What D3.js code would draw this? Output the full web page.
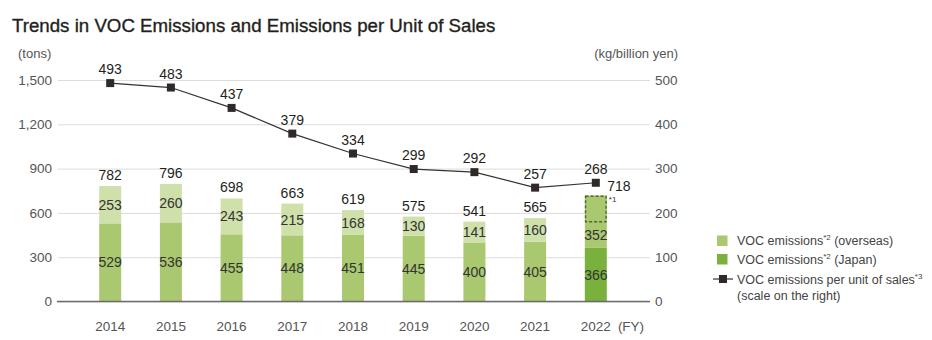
<!DOCTYPE html>
<html>
<head>
<meta charset="utf-8">
<script src="https://cdn.jsdelivr.net/npm/d3@7"></script>
<style>
  body { margin: 0; background: #fff; }
  svg text { font-family: "Liberation Sans", Arial, Helvetica, sans-serif; }
</style>
</head>
<body>
<script>
// VOC emissions by fiscal year (tons) and emissions per unit of sales (kg/billion yen)
var years = ["2014", "2015", "2016", "2017", "2018", "2019", "2020", "2021", "2022"];
var japan = [529, 536, 455, 448, 451, 445, 400, 405, 366];
var overseas = [253, 260, 243, 215, 168, 130, 141, 160, 352];
var totals = [782, 796, 698, 663, 619, 575, 541, 565, 718];
var perSales = [493, 483, 437, 379, 334, 299, 292, 257, 268];
// share of the 2022 overseas figure covered by note *1
var noted2022 = 178;

var leftTicks = [0, 300, 600, 900, 1200, 1500];
var rightTicks = [0, 100, 200, 300, 400, 500];

var svgWidth = 932;
var svgHeight = 340;

var colors = {
  japan: "#79b13c",
  overseas: "#a9c86f",
  japanOld: "#a9c86f",
  overseasOld: "#cfe0ab",
  line: "#2f2a28",
};

var svg = d3
  .select("body")
  .append("svg")
  .attr("width", svgWidth)
  .attr("height", svgHeight);

// Title
svg
  .append("text")
  .attr("x", 12)
  .attr("y", 32)
  .attr("font-size", 18.7)
  .attr("fill", "#231f20")
  .attr("stroke", "#231f20")
  .attr("stroke-width", 0.35)
  .text("Trends in VOC Emissions and Emissions per Unit of Sales");

// Scales
var x = d3
  .scaleBand()
  .domain(years)
  .range([57, 649])
  .paddingInner(0.6376)
  .paddingOuter(0.695);

var yLeft = d3.scaleLinear().domain([0, 1500]).range([301.5, 80]);
var yRight = d3.scaleLinear().domain([0, 500]).range([301.5, 80]);

var cx = (d) => x(d) + x.bandwidth() / 2;

// Left axis with gridlines
var leftAxis = svg
  .append("g")
  .attr("transform", "translate(58,0)")
  .call(
    d3
      .axisLeft(yLeft)
      .tickValues(leftTicks)
      .tickSize(-592)
      .tickPadding(6)
      .tickFormat(d3.format(","))
  );
leftAxis.select(".domain").remove();
leftAxis.selectAll("line").attr("stroke", "#dcdcdc");
leftAxis
  .selectAll("text")
  .attr("font-size", 13.5)
  .attr("fill", "#555")
  .style("font-family", "'Liberation Sans', Arial, sans-serif");

// Right axis
var rightAxis = svg
  .append("g")
  .attr("transform", "translate(650,0)")
  .call(d3.axisRight(yRight).tickValues(rightTicks).tickSize(0).tickPadding(5));
rightAxis.select(".domain").remove();
rightAxis
  .selectAll("text")
  .attr("font-size", 13.5)
  .attr("fill", "#555")
  .style("font-family", "'Liberation Sans', Arial, sans-serif");

// Unit labels
svg
  .append("text")
  .attr("x", 18)
  .attr("y", 57.5)
  .attr("font-size", 13)
  .attr("fill", "#555")
  .text("(tons)");
svg
  .append("text")
  .attr("x", 678)
  .attr("y", 57.5)
  .attr("font-size", 13)
  .attr("fill", "#555")
  .attr("text-anchor", "end")
  .text("(kg/billion yen)");

// Stacked bars
var last = years.length - 1;
var bars = svg
  .append("g")
  .selectAll("g")
  .data(years)
  .enter()
  .append("g");

bars
  .append("rect")
  .attr("x", (d) => x(d))
  .attr("width", x.bandwidth())
  .attr("y", (d, i) => yLeft(japan[i]))
  .attr("height", (d, i) => yLeft(0) - yLeft(japan[i]))
  .attr("fill", (d, i) => (i == last ? colors.japan : colors.japanOld));

bars
  .append("rect")
  .attr("x", (d) => x(d))
  .attr("width", x.bandwidth())
  .attr("y", (d, i) => yLeft(totals[i]))
  .attr("height", (d, i) => yLeft(japan[i]) - yLeft(totals[i]))
  .attr("fill", (d, i) => (i == last ? colors.overseas : colors.overseasOld));

// Dashed box on the 2022 overseas segment (*1)
svg
  .append("rect")
  .attr("x", x(years[last]) + 0.75)
  .attr("width", x.bandwidth() - 1.5)
  .attr("y", yLeft(totals[last]) + 0.75)
  .attr("height", yLeft(totals[last] - noted2022) - yLeft(totals[last]) - 0.75)
  .attr("fill", "none")
  .attr("stroke", "#4b6a2c")
  .attr("stroke-width", 1.4)
  .attr("stroke-dasharray", "3,2");
svg
  .append("text")
  .attr("x", x(years[last]) + x.bandwidth() + 2)
  .attr("y", yLeft(totals[last]) + 7)
  .attr("font-size", 8)
  .attr("fill", "#333")
  .text("*1");

// Segment labels
bars
  .append("text")
  .attr("x", (d) => cx(d))
  .attr("y", (d, i) => (yLeft(japan[i]) + yLeft(0)) / 2)
  .attr("dy", "0.36em")
  .attr("text-anchor", "middle")
  .attr("font-size", 14)
  .attr("fill", "#333")
  .text((d, i) => japan[i]);

bars
  .append("text")
  .attr("x", (d) => cx(d))
  .attr("y", (d, i) => {
    var top = i == last ? totals[i] - noted2022 : totals[i];
    return (yLeft(top) + yLeft(japan[i])) / 2;
  })
  .attr("dy", "0.36em")
  .attr("text-anchor", "middle")
  .attr("font-size", 14)
  .attr("fill", "#333")
  .text((d, i) => overseas[i]);

// Totals above the bars (2022 sits beside the marker)
bars
  .append("text")
  .attr("x", (d, i) => (i == last ? x(d) + x.bandwidth() + 0.5 : cx(d)))
  .attr("y", (d, i) => yLeft(totals[i]) - (i == last ? 4.5 : 6))
  .attr("text-anchor", (d, i) => (i == last ? "start" : "middle"))
  .attr("font-size", 14)
  .attr("fill", "#231f20")
  .text((d, i) => totals[i]);

// Baseline
svg
  .append("line")
  .attr("x1", 57)
  .attr("x2", 650)
  .attr("y1", yLeft(0))
  .attr("y2", yLeft(0))
  .attr("stroke", "#6b6b6b")
  .attr("stroke-width", 1.5);

// Year labels
var xAxis = svg
  .append("g")
  .attr("transform", `translate(0, ${yLeft(0)})`)
  .call(d3.axisBottom(x).tickSize(0).tickPadding(20));
xAxis.select(".domain").remove();
xAxis
  .selectAll("text")
  .attr("font-size", 13.5)
  .attr("fill", "#555")
  .style("font-family", "'Liberation Sans', Arial, sans-serif");
svg
  .append("text")
  .attr("x", 631)
  .attr("y", yLeft(0) + 29.5)
  .attr("text-anchor", "middle")
  .attr("font-size", 13.5)
  .attr("fill", "#555")
  .text("(FY)");

// Emissions per unit of sales line (right scale)
var line = d3
  .line()
  .x((d, i) => cx(years[i]))
  .y((d) => yRight(d));

svg
  .append("path")
  .datum(perSales)
  .attr("d", line)
  .attr("fill", "none")
  .attr("stroke", "#333")
  .attr("stroke-width", 1.2);

svg
  .append("g")
  .selectAll("rect")
  .data(perSales)
  .enter()
  .append("rect")
  .attr("x", (d, i) => cx(years[i]) - 4)
  .attr("y", (d) => yRight(d) - 4)
  .attr("width", 8)
  .attr("height", 8)
  .attr("fill", colors.line);

svg
  .append("g")
  .selectAll("text")
  .data(perSales)
  .enter()
  .append("text")
  .attr("x", (d, i) => cx(years[i]))
  .attr("y", (d) => yRight(d) - 9)
  .attr("text-anchor", "middle")
  .attr("font-size", 14)
  .attr("fill", "#231f20")
  .text((d) => d);

// Legend
var legend = svg.append("g").attr("transform", "translate(717,0)");

function legendText(y, main, sup, rest) {
  var t = legend
    .append("text")
    .attr("x", 20)
    .attr("y", y)
    .attr("font-size", 12.5)
    .attr("fill", "#444");
  t.append("tspan").text(main);
  t.append("tspan").attr("font-size", 8).attr("dy", -5).text(sup);
  t.append("tspan").attr("dy", 5).text(rest);
}

legend
  .append("rect")
  .attr("x", 0)
  .attr("y", 235.5)
  .attr("width", 10.5)
  .attr("height", 10.5)
  .attr("fill", colors.overseas);
legendText(245, "VOC emissions", "*2", " (overseas)");

legend
  .append("rect")
  .attr("x", 0)
  .attr("y", 254)
  .attr("width", 10.5)
  .attr("height", 10.5)
  .attr("fill", colors.japan);
legendText(264, "VOC emissions", "*2", " (Japan)");

legend
  .append("line")
  .attr("x1", -4)
  .attr("x2", 16)
  .attr("y1", 279)
  .attr("y2", 279)
  .attr("stroke", "#333")
  .attr("stroke-width", 1.2);
legend
  .append("rect")
  .attr("x", 2)
  .attr("y", 275)
  .attr("width", 8)
  .attr("height", 8)
  .attr("fill", colors.line);
legendText(283.5, "VOC emissions per unit of sales", "*3", "");
legend
  .append("text")
  .attr("x", 20)
  .attr("y", 299.5)
  .attr("font-size", 12.5)
  .attr("fill", "#444")
  .text("(scale on the right)");
</script>
</body>
</html>
